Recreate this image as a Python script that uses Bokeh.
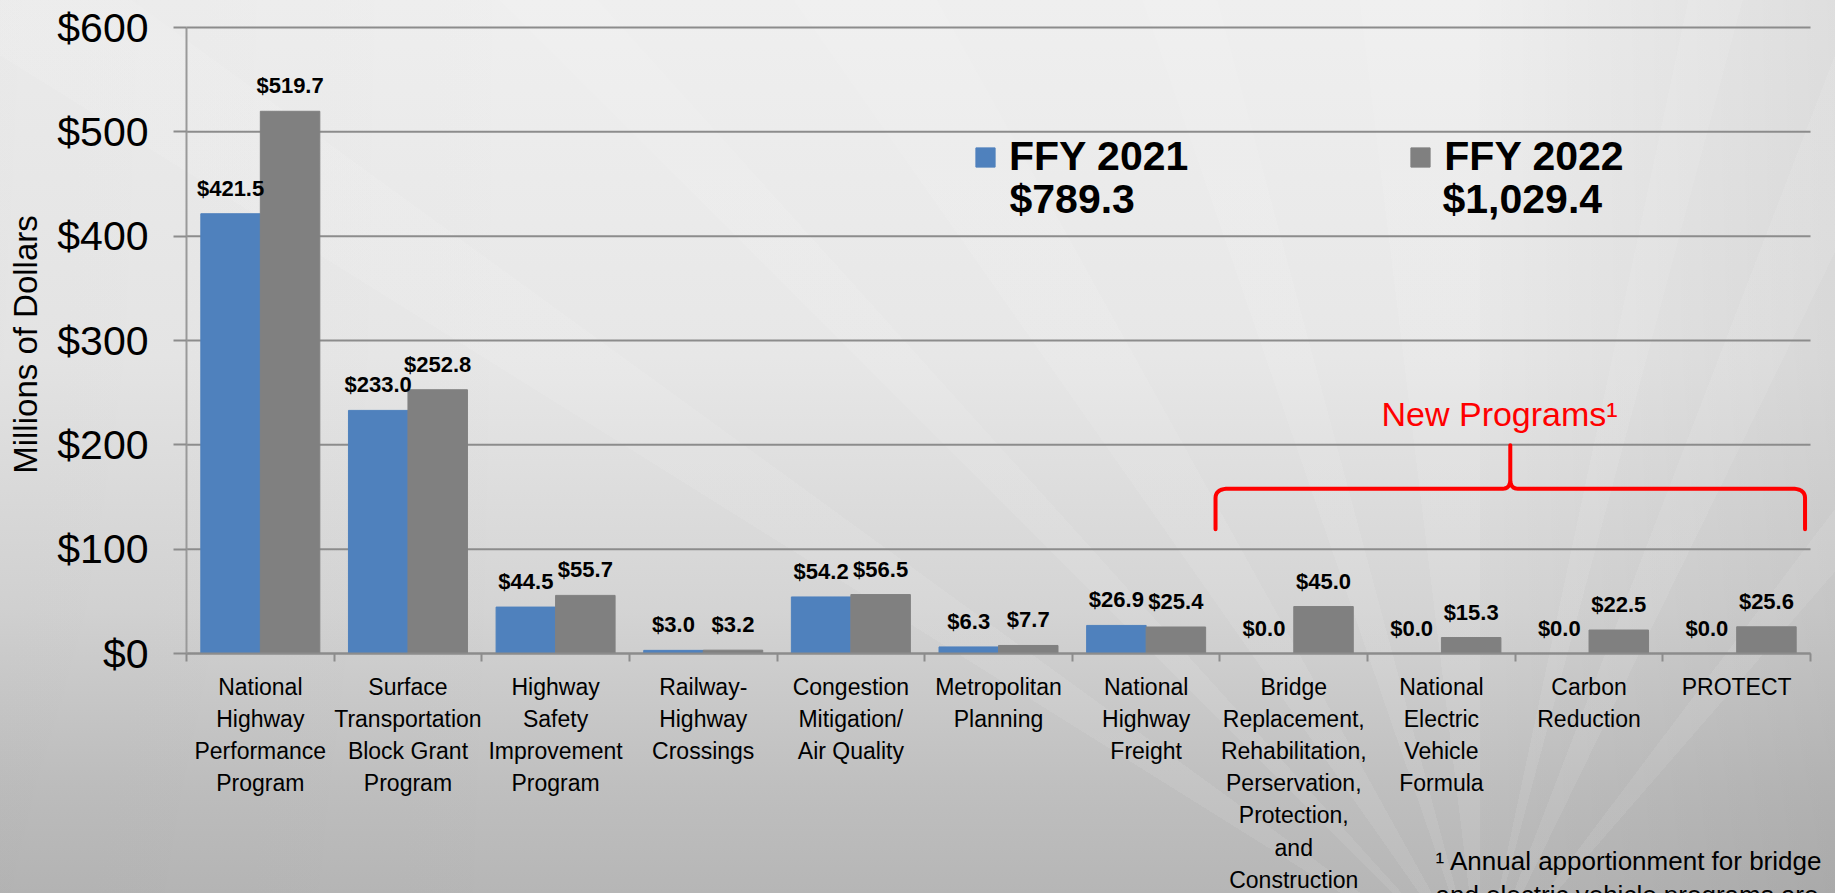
import numpy as np
from bokeh.plotting import figure
from bokeh.models import (ColumnDataSource, Range1d, FixedTicker, NumeralTickFormatter,
                          LabelSet, Label, Legend, LegendItem)
from bokeh.core.properties import value
from bokeh.transform import dodge
from bokeh.embed import file_html
from bokeh.resources import INLINE

# ---------------- data ----------------
categories = [
    "National\nHighway\nPerformance\nProgram",
    "Surface\nTransportation\nBlock Grant\nProgram",
    "Highway\nSafety\nImprovement\nProgram",
    "Railway-\nHighway\nCrossings",
    "Congestion\nMitigation/\nAir Quality",
    "Metropolitan\nPlanning",
    "National\nHighway\nFreight",
    "Bridge\nReplacement,\nRehabilitation,\nPerservation,\nProtection,\nand\nConstruction",
    "National\nElectric\nVehicle\nFormula",
    "Carbon\nReduction",
    "PROTECT",
]
ffy2021 = [421.5, 233.0, 44.5, 3.0, 54.2, 6.3, 26.9, 0.0, 0.0, 0.0, 0.0]
ffy2022 = [519.7, 252.8, 55.7, 3.2, 56.5, 7.7, 25.4, 45.0, 15.3, 22.5, 25.6]
series_names = ["FFY 2021", "FFY 2022"]
series_totals = ["$789.3", "$1,029.4"]
y_ticks = [0, 100, 200, 300, 400, 500, 600]
y_title = "Millions of Dollars"
first_new_program = 7   # index of first "New Program" category
new_programs_text = "New Programs\u00b9"
footnote_lines = ["\u00b9 Annual apportionment for bridge",
                  "and electric vehicle programs are"]

# ---------------- geometry / styling ----------------
W_PX, H_PX = 1835, 893
LEFT_PX, RIGHT_PX, TOP_PX, BOTTOM_PX = 186, 25, 27, 240   # plot-area margins
BLUE = "#4F81BD"
GRAY = "#808080"
GRID = "#8c8c8c"
SANS = "Liberation Sans"

n = len(categories)
centers = [i + 0.5 for i in range(n)]
src = ColumnDataSource(dict(
    x=centers, a=ffy2021, b=ffy2022,
    la=[f"${v:.1f}" for v in ffy2021],
    lb=[f"${v:.1f}" for v in ffy2022],
))

# the frame covers the whole canvas; both axes are pinned at 0
cat_px = (W_PX - LEFT_PX - RIGHT_PX) / n
unit_px = (H_PX - TOP_PX - BOTTOM_PX) / y_ticks[-1]
x_range = Range1d(-LEFT_PX / cat_px, n + RIGHT_PX / cat_px)
y_range = Range1d(-BOTTOM_PX / unit_px, y_ticks[-1] + TOP_PX / unit_px)

p = figure(width=W_PX, height=H_PX, output_backend="svg", toolbar_location=None,
           x_range=x_range, y_range=y_range,
           min_border_left=0, min_border_right=0, min_border_top=0, min_border_bottom=0)
p.outline_line_color = None
p.background_fill_alpha = 0
p.border_fill_alpha = 0

# background: grey gradient with faint light rays
ray_stops = []
ang = 0.0
widths = [(4, 9), (3, 7), (6, 10), (4, 8), (7, 12), (3, 6), (5, 11), (4, 9)]
for w_on, w_off in widths:
    ray_stops.append(f"rgba(255,255,255,0.08) {ang}deg {ang + w_on}deg")
    ang += w_on
    ray_stops.append(f"rgba(255,255,255,0) {ang}deg {ang + w_off}deg")
    ang += w_off
ray_stops.append(f"rgba(255,255,255,0) {ang}deg 360deg")
rays = "conic-gradient(from -58deg at 1480px 980px, " + ", ".join(ray_stops) + ")"
p.styles = {
    "background": rays + ", "
    "linear-gradient(to right, rgba(0,0,0,0.02) 0%, rgba(0,0,0,0) 30%, rgba(0,0,0,0) 80%, rgba(0,0,0,0.07) 100%), "
    "linear-gradient(to bottom, #efefef 0%, #e7e7e7 40%, #d4d4d4 68%, #bfbfbf 88%, #b6b6b6 100%)"
}

# horizontal gridlines (only across the plot area)
p.segment(x0=0, x1=n, y0=y_ticks, y1=y_ticks, line_color=GRID, line_width=2,
          level="underlay")

OFF, W = 0.2015, 0.403
r1 = p.vbar(x=dodge("x", -OFF, range=p.x_range), top="a", width=W, source=src,
            fill_color=BLUE, line_color=BLUE)
r2 = p.vbar(x=dodge("x", OFF, range=p.x_range), top="b", width=W, source=src,
            fill_color=GRAY, line_color=GRAY)

lbl_kw = dict(text_font=value(SANS), text_font_style="bold", text_font_size="22px",
              text_color="black", text_align="center", text_baseline="alphabetic",
              y_offset=18, source=src)
p.add_layout(LabelSet(x=dodge("x", -OFF, range=p.x_range), y="a", text="la", **lbl_kw))
p.add_layout(LabelSet(x=dodge("x", OFF, range=p.x_range), y="b", text="lb", **lbl_kw))

# ---------------- axes ----------------
xa = p.xaxis[0]
xa.fixed_location = 0
xa.bounds = (0, n)
xa.ticker = FixedTicker(ticks=centers, minor_ticks=list(range(n + 1)))
xa.major_label_overrides = {c: lab for c, lab in zip(centers, categories)}
xa.major_tick_line_color = None
xa.major_tick_in = 0
xa.major_tick_out = 0
xa.minor_tick_in = 0
xa.minor_tick_out = 8
xa.minor_tick_line_color = GRID
xa.minor_tick_line_width = 2
xa.axis_line_color = GRID
xa.axis_line_width = 2
xa.major_label_standoff = 12
xa.major_label_text_font = SANS
xa.major_label_text_font_size = "23px"
xa.major_label_text_color = "black"
xa.major_label_text_line_height = 1.24

ya = p.yaxis[0]
ya.fixed_location = 0
ya.bounds = (y_ticks[0], y_ticks[-1])
ya.ticker = FixedTicker(ticks=y_ticks)
ya.formatter = NumeralTickFormatter(format="$0,0")
ya.major_tick_in = 0
ya.major_tick_out = 13
ya.major_tick_line_color = GRID
ya.major_tick_line_width = 2
ya.minor_tick_line_color = None
ya.axis_line_color = "#999999"
ya.axis_line_width = 2
ya.major_label_standoff = 25
ya.major_label_text_font = SANS
ya.major_label_text_font_size = "41px"
ya.major_label_text_color = "black"

p.xgrid.visible = False
p.ygrid.visible = False

# y-axis title, centred on the plot area
p.add_layout(Label(x=25, y=BOTTOM_PX + (H_PX - TOP_PX - BOTTOM_PX) / 2 - 4,
                   x_units="screen", y_units="screen", text=y_title, angle=np.pi / 2,
                   text_align="center", text_baseline="middle", text_font=SANS,
                   text_font_size="33px", text_color="black"))

# ---------------- legend ----------------
legend = Legend(items=[LegendItem(label=series_names[0], renderers=[r1]),
                       LegendItem(label=series_names[1], renderers=[r2])],
                orientation="horizontal", location=(973, 713),
                background_fill_alpha=0, border_line_color=None,
                glyph_width=24, glyph_height=24, label_standoff=12, spacing=220,
                padding=0, margin=0,
                label_text_font=SANS, label_text_font_style="bold",
                label_text_font_size="41px", label_text_color="black")
p.add_layout(legend)

tot_kw = dict(x_units="screen", y_units="screen", text_font=SANS, text_font_style="bold",
              text_font_size="41px", text_color="black", text_baseline="alphabetic")
p.add_layout(Label(x=1009, y=695, text=series_totals[0], **tot_kw))
p.add_layout(Label(x=1442, y=695, text=series_totals[1], **tot_kw))

# ---------------- "New Programs" bracket ----------------
def qbez(p0, c, p1, k=10):
    t = np.linspace(0, 1, k)
    xs = (1 - t) ** 2 * p0[0] + 2 * (1 - t) * t * c[0] + t ** 2 * p1[0]
    ys = (1 - t) ** 2 * p0[1] + 2 * (1 - t) * t * c[1] + t ** 2 * p1[1]
    return list(xs), list(ys)

x0 = first_new_program - 0.03
x1 = n - 0.037
xc = (x0 + x1) / 2
yb, ym, yp = 119.0, 158.0, 199.5
rx, ry = 0.09, 9.0
rx2, ry2 = 0.05, 9.0
bx, by = [x0], [yb]
for seg in [((x0, ym - ry), (x0, ym), (x0 + rx, ym)),
            ((xc - rx2, ym), (xc, ym), (xc, ym + ry2))]:
    xs, ys = qbez(*seg)
    bx += xs; by += ys
bx += [xc, xc]; by += [yp, ym + ry2]
for seg in [((xc, ym + ry2), (xc, ym), (xc + rx2, ym)),
            ((x1 - rx, ym), (x1, ym), (x1, ym - ry))]:
    xs, ys = qbez(*seg)
    bx += xs; by += ys
bx.append(x1); by.append(yb)
p.line(bx, by, line_color="#ff0000", line_width=4, line_join="round", line_cap="round")

p.add_layout(Label(x=1381, y=480, x_units="screen", y_units="screen", text=new_programs_text,
                   text_font=SANS, text_font_size="34px", text_color="#ff0000",
                   text_baseline="alphabetic"))

# ---------------- footnote ----------------
for i, line in enumerate(footnote_lines):
    p.add_layout(Label(x=1435, y=33 - 34 * i, x_units="screen", y_units="screen",
                       text=line, text_font=SANS, text_font_size="26px",
                       text_color="black", text_baseline="alphabetic"))

open("out.html", "w").write(file_html(p, INLINE))
